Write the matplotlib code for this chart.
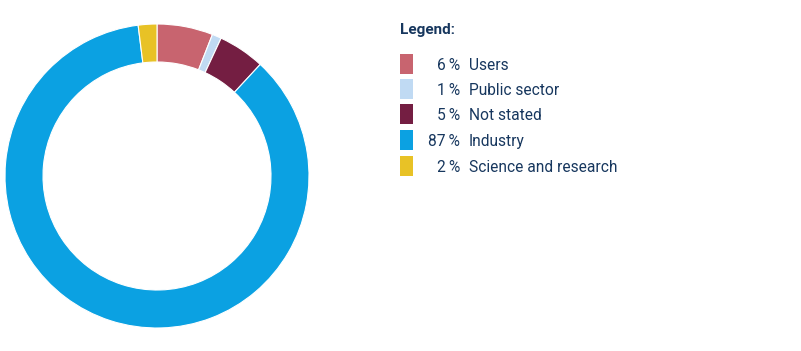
import matplotlib
matplotlib.use("Agg")
import matplotlib.pyplot as plt
from matplotlib.patches import Rectangle

# data, clockwise from 12 o'clock
labels = ["Users", "Public sector", "Not stated", "Industry", "Science and research"]
shares = [6, 1, 5, 87, 2]
colors = ["#c8646f", "#c0daf3", "#741e42", "#0ba1e2", "#e8c226"]

TEXT = "#17375e"
W, H = 801, 351

plt.rcParams["font.family"] = ["Roboto", "DejaVu Sans"]

fig = plt.figure(figsize=(W / 100, H / 100), dpi=100)

# donut
ax = fig.add_axes([5 / W, (H - 328) / H, 304 / W, 304 / H])
ax.pie(shares, colors=colors, startangle=90, counterclock=False,
       wedgeprops=dict(width=0.25, edgecolor="white", linewidth=0.8))
ax.set_aspect("equal")
ax.set_xlim(-1.0, 1.0)
ax.set_ylim(-1.0, 1.0)
ax.axis("off")

# legend drawn by hand
fig.text(400 / W, 1 - 30 / H, "Legend:", color=TEXT, fontsize=11,
         fontweight="bold", va="center", ha="left")

row_y = [64, 89, 114, 140, 166]
for y, lab, val, col in zip(row_y, labels, shares, colors):
    fig.patches.append(Rectangle((400 / W, 1 - (y + 10) / H), 13 / W, 20 / H,
                                 transform=fig.transFigure, facecolor=col,
                                 edgecolor="none"))
    fig.text(460 / W, 1 - (y + 1.5) / H, f"{val}\u2009%", color=TEXT, fontsize=11.2,
             va="center", ha="right")
    fig.text(469 / W, 1 - (y + 1.5) / H, lab, color=TEXT, fontsize=11.2,
             va="center", ha="left")

fig.savefig("out.png", dpi=100)
